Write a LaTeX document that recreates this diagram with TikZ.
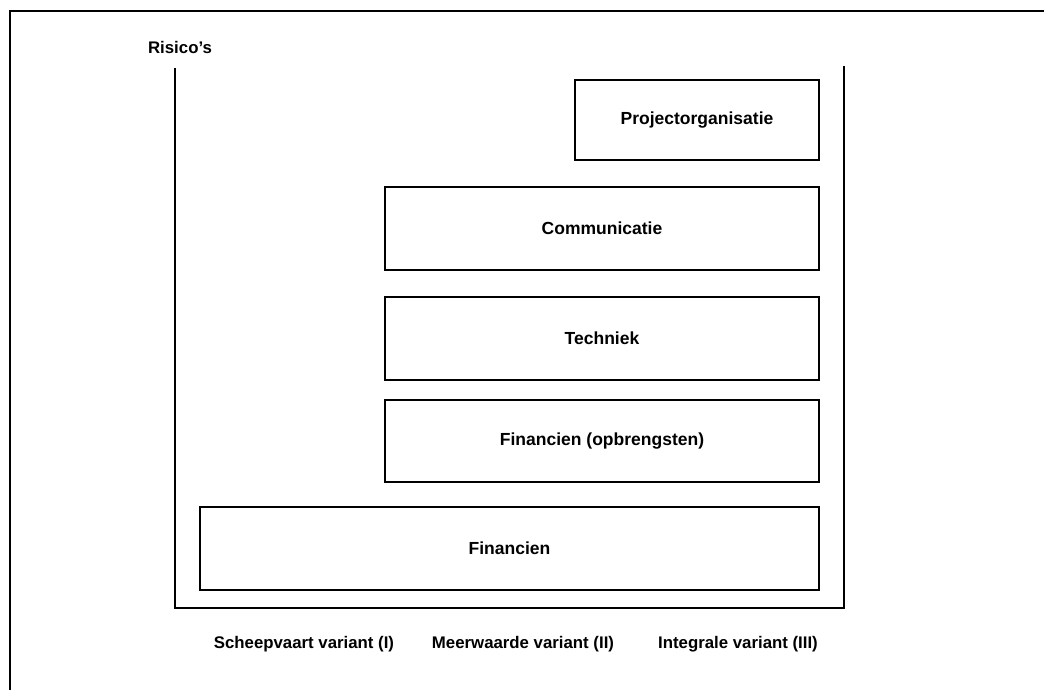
\documentclass[tikz,border=0pt]{standalone}
\usepackage{fontspec}
\setmainfont{Liberation Sans}
\begin{document}
\begin{tikzpicture}[x=1pt,y=-1pt,
  box/.style={draw=black, line width=1.3pt, inner sep=0pt, font=\fontsize{17.5}{20}\selectfont\bfseries},
  lbl/.style={inner sep=0pt, font=\fontsize{16.8}{19}\selectfont\bfseries},
  frame/.style={line width=2pt},
  axis/.style={line width=1.5pt}]
\useasboundingbox (0,0) rectangle (1044,690);
% outer frame (open to right and bottom edges)
\coordinate (otr) at (1044,11);
\coordinate (otl) at (10,11);
\coordinate (obl) at (10,690);
\draw[frame] (otr) -- (otl) -- (obl);
% axes
\coordinate (al) at (175,68);
\coordinate (ao) at (175,608);
\coordinate (ar) at (844,608);
\coordinate (at) at (844,66);
\draw[axis] (al) -- (ao) -- (ar) -- (at);
% boxes
\node[box, minimum width=244pt, minimum height=80pt] (p) at (697,120) {Projectorganisatie};
\node[box, minimum width=434pt, minimum height=83pt] (c) at (602,228.5) {Communicatie};
\node[box, minimum width=434pt, minimum height=83pt] (t) at (602,338.5) {Techniek};
\node[box, minimum width=434pt, minimum height=82pt] (fo) at (602,441) {Financien (opbrengsten)};
\node[box, minimum width=619pt, minimum height=83pt] (f) at (509.5,548.5) {Financien};
% labels
\node[lbl] (r) at (180,47) {Risico's};
\node[lbl] (s1) at (304,644) {Scheepvaart variant (I)};
\node[lbl] (s2) at (523,644) {Meerwaarde variant (II)};
\node[lbl] (s3) at (738,644) {Integrale variant (III)};
\end{tikzpicture}
\end{document}
